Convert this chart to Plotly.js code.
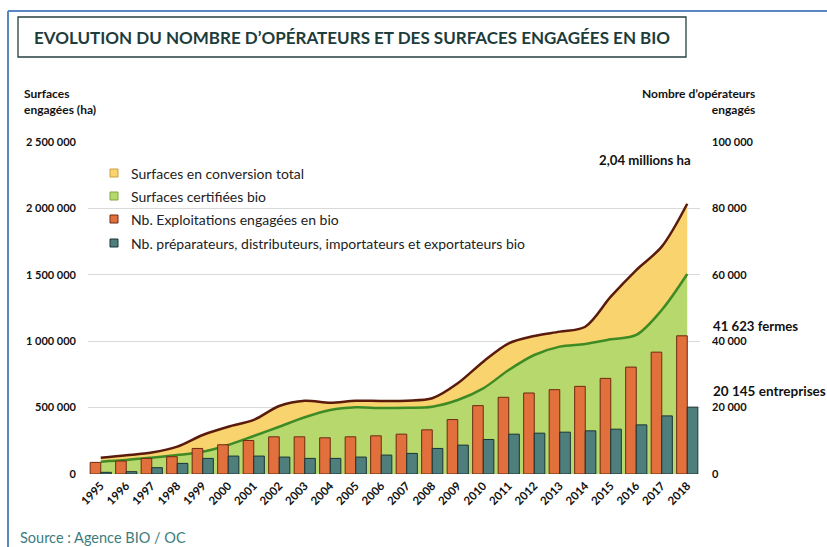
<!DOCTYPE html>
<html><head><meta charset="utf-8">
<script src="https://cdn.plot.ly/plotly-3.0.1.min.js"></script>
<style>html,body{margin:0;padding:0;background:#fff}#chart{width:827px;height:547px}</style>
</head><body><div id="chart"></div>
<script>
const years = ['1995','1996','1997','1998','1999','2000','2001','2002','2003','2004','2005','2006','2007','2008','2009','2010','2011','2012','2013','2014','2015','2016','2017','2018'];
const surfacesTotal = [123000,141000,162000,206000,294000,356000,407000,512000,552000,537000,552000,550000,552000,570000,683000,846000,984000,1039000,1072000,1109000,1335000,1536000,1712000,2035000];
const surfacesCertifiees = [93000,105000,123000,143000,168000,218000,286000,356000,427000,482000,502000,497000,499000,507000,557000,645000,783000,896000,959000,979000,1014000,1047000,1235000,1506000];
const exploitations = [3500,3900,4700,5200,7700,8800,10100,11200,11200,10900,11200,11500,12000,13300,16400,20600,23100,24400,25400,26400,28800,32200,36700,41623];
const operateurs = [500,700,1900,3200,4700,5400,5400,5100,4700,4700,5100,5700,6200,7700,8700,10400,12000,12300,12600,13000,13500,14800,17500,20145];
const legendLabels = ['Surfaces en conversion total','Surfaces certifiées bio','Nb. Exploitations engagées en bio','Nb. préparateurs, distributeurs, importateurs et exportateurs bio'];
const titleText = 'EVOLUTION DU NOMBRE D\u2019OPÉRATEURS ET DES SURFACES ENGAGÉES EN BIO';

const W=827,H=547,L=88,R=127,T=142,B=73;
const pw=W-L-R, ph=H-T-B;
const px=x=>(x-L)/pw, py=y=>(H-B-y)/ph;

const cYellow='#f8d36e', cGreen='#b6d86c', cOrange='#e2703c', cTeal='#4f7f7c';
const lBrown='#5a1a0c', lGreen='#3e8a24';
const FONT='Lato, "Open Sans", sans-serif';

const traces = [
  {type:'scatter', x:years, y:surfacesCertifiees, mode:'lines', fill:'tozeroy', fillcolor:cGreen,
   line:{color:lGreen,width:2.5,shape:'spline',smoothing:0.9}, name:legendLabels[1], showlegend:false, yaxis:'y'},
  {type:'scatter', x:years, y:surfacesTotal, mode:'lines', fill:'tonexty', fillcolor:cYellow,
   line:{color:lBrown,width:2.5,shape:'spline',smoothing:0.9}, name:legendLabels[0], showlegend:false, yaxis:'y'},
  {type:'bar', x:years, y:exploitations, marker:{color:cOrange,line:{color:'#6e2a10',width:1}}, name:legendLabels[2], showlegend:false, yaxis:'y2'},
  {type:'bar', x:years, y:operateurs, marker:{color:cTeal,line:{color:'#1b3434',width:1}}, name:legendLabels[3], showlegend:false, yaxis:'y2'}
];

const shapes = [
  {type:'line', xref:'paper', yref:'paper', x0:px(8), x1:px(830), y0:py(11), y1:py(11), line:{color:'#5b86c4',width:2}},
  {type:'line', xref:'paper', yref:'paper', x0:px(8), x1:px(8), y0:py(11), y1:py(550), line:{color:'#5b86c4',width:2}},
  {type:'rect', xref:'paper', yref:'paper', x0:px(18), x1:px(686), y0:py(17), y1:py(57), line:{color:'#24403f',width:1.3}, fillcolor:'rgba(0,0,0,0)'}
];
const annotations = [
  {xref:'paper', yref:'paper', x:px(352), y:py(37), text:'<b>'+titleText+'</b>', showarrow:false, xanchor:'center', yanchor:'middle',
   font:{family:FONT, size:17, color:'#1d3c3c'}},
  {xref:'paper', yref:'paper', x:px(22), y:py(84), text:'<b>Surfaces<br>engagées (ha)</b>', showarrow:false, xanchor:'left', yanchor:'top', align:'left',
   font:{family:FONT, size:12, color:'#111'}},
  {xref:'paper', yref:'paper', x:px(757), y:py(84), text:'<b>Nombre d\u2019opérateurs<br>engagés</b>', showarrow:false, xanchor:'right', yanchor:'top', align:'right',
   font:{family:FONT, size:12, color:'#111'}},
  {xref:'paper', yref:'paper', x:px(693), y:py(160), text:'<b>2,04 millions ha</b>', showarrow:false, xanchor:'right', yanchor:'middle',
   font:{family:FONT, size:13.2, color:'#111'}},
  {xref:'paper', yref:'paper', x:px(711), y:py(326), text:'<b>41 623 fermes</b>', showarrow:false, xanchor:'left', yanchor:'middle',
   font:{family:FONT, size:13.2, color:'#111'}},
  {xref:'paper', yref:'paper', x:px(711), y:py(391), text:'<b>20 145 entreprises</b>', showarrow:false, xanchor:'left', yanchor:'middle',
   font:{family:FONT, size:13.5, color:'#111'}},
  {xref:'paper', yref:'paper', x:px(18), y:py(537), text:'Source : Agence BIO / OC', showarrow:false, xanchor:'left', yanchor:'middle',
   font:{family:FONT, size:14.5, color:'#3d7c7c'}}
];
const legColors=[cYellow,cGreen,cOrange,cTeal], legBorders=['#c9a040','#7fa83c','#6e2a10','#1b3434'];
const legY=[173,196,219,243];
legendLabels.forEach((t,i)=>{
  shapes.push({type:'rect', xref:'paper', yref:'paper', x0:px(110), x1:px(118), y0:py(legY[i]-4), y1:py(legY[i]+4), fillcolor:legColors[i], line:{color:legBorders[i],width:1}});
  annotations.push({xref:'paper', yref:'paper', x:px(129), y:py(legY[i]), text:t, showarrow:false, xanchor:'left', yanchor:'middle',
    font:{family:FONT, size:14, color:'#222'}});
});

const layout = {
  width:W, height:H, margin:{l:L,r:R,t:T,b:B,pad:0},
  paper_bgcolor:'#fff', plot_bgcolor:'#fff',
  separators:', ',
  font:{family:FONT, color:'#111'},
  barmode:'group', bargap:0.17, bargroupgap:0,
  showlegend:false,
  xaxis:{type:'category', tickangle:-45, tickfont:{family:FONT,size:11.5,weight:'bold',color:'#111'}, showgrid:false, zeroline:false, showline:false, ticks:'', ticklabelstandoff:2},
  yaxis:{range:[0,2500000], dtick:500000, tickformat:',d', showgrid:true, gridcolor:'#d9d9d9', gridwidth:1, zeroline:false, showline:false, ticks:'',
    tickfont:{family:FONT,size:11,weight:'bold',color:'#111'}, ticklabelstandoff:11},
  yaxis2:{range:[0,100000], dtick:20000, tickformat:',d', overlaying:'y', side:'right', showgrid:false, zeroline:false, showline:false, ticks:'',
    tickfont:{family:FONT,size:11,weight:'bold',color:'#111'}, ticklabelstandoff:11},
  shapes:shapes, annotations:annotations
};
Plotly.newPlot('chart', traces, layout, {displayModeBar:false, staticPlot:true});
</script></body></html>
